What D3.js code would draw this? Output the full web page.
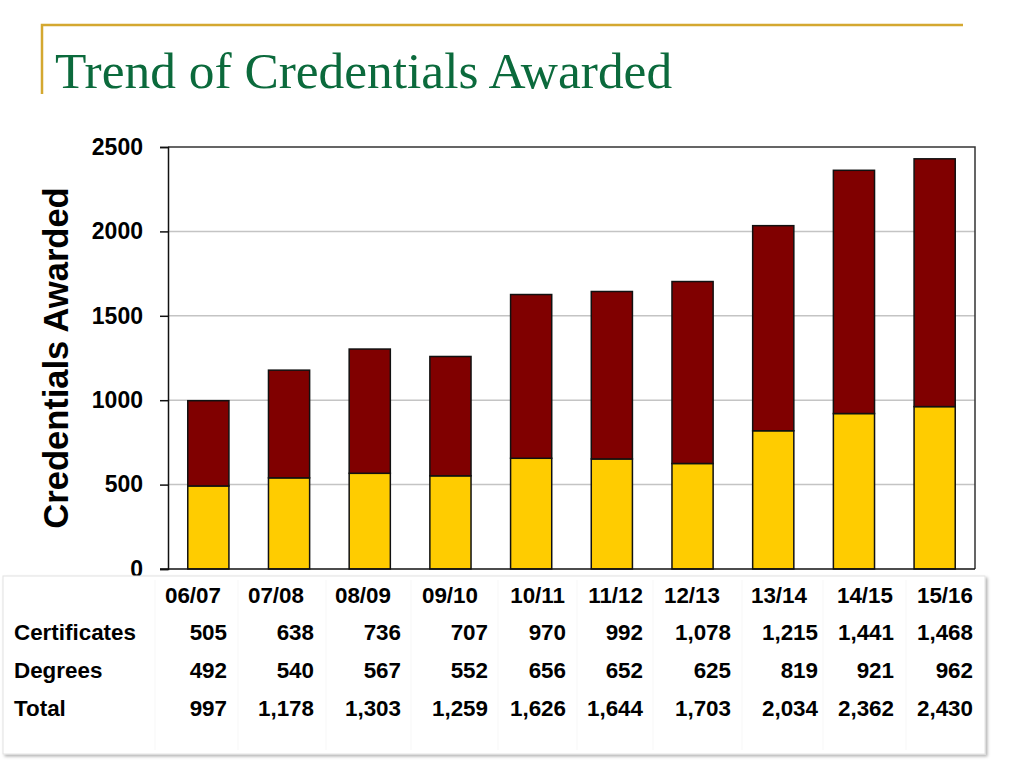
<!DOCTYPE html>
<html>
<head>
<meta charset="utf-8">
<script src="https://cdn.jsdelivr.net/npm/d3@7"></script>
<style>
  html, body { margin: 0; padding: 0; background: #fff; }
  svg { display: block; }
</style>
</head>
<body>
<svg id="chart" width="1024" height="768"></svg>
<script>
// ---- Data ----
const categories = ["06/07", "07/08", "08/09", "09/10", "10/11", "11/12", "12/13", "13/14", "14/15", "15/16"];
const certificates = [505, 638, 736, 707, 970, 992, 1078, 1215, 1441, 1468];
const degrees = [492, 540, 567, 552, 656, 652, 625, 819, 921, 962];
const totals = [997, 1178, 1303, 1259, 1626, 1644, 1703, 2034, 2362, 2430];
const yTicks = [0, 500, 1000, 1500, 2000, 2500];
const rowLabels = ["Certificates", "Degrees", "Total"];

// ---- Layout ----
const plot = { left: 168, right: 975, top: 147, bottom: 569 };
const headerRight = [221, 304, 391, 478, 565, 643, 720, 807, 893, 973];
const valueRight = [227, 314, 401, 488, 566, 643, 731, 818, 894, 973];
const dividerX = [155, 238, 326, 411, 498, 577, 653, 742, 823, 906];

const svg = d3.select("#chart");
const defs = svg.append("defs");
const f = defs.append("filter").attr("id", "shadow").attr("x", "-5%").attr("y", "-5%").attr("width", "110%").attr("height", "115%");
f.append("feDropShadow").attr("dx", 2).attr("dy", 2).attr("stdDeviation", 1.5).attr("flood-color", "#000").attr("flood-opacity", 0.3);

// Decorative gold frame lines
svg.append("path")
  .attr("d", "M42,94 L42,25 L963,25")
  .attr("fill", "none").attr("stroke", "#D4A830").attr("stroke-width", 2.5);

// Title
svg.append("text")
  .attr("x", 55).attr("y", 88)
  .attr("font-family", "'Liberation Serif', 'Times New Roman', serif")
  .attr("font-size", 51.4)
  .attr("fill", "#0B6A3C")
  .text("Trend of Credentials Awarded");

// Scales
const x = d3.scaleBand().domain(categories).range([plot.left, plot.right]).paddingInner(0.49).paddingOuter(0.245);
const y = d3.scaleLinear().domain([0, 2500]).range([plot.bottom, plot.top]);

// Gridlines
svg.append("g").selectAll("line").data(yTicks.filter(d => d > 0 && d < 2500)).join("line")
  .attr("x1", plot.left).attr("x2", plot.right)
  .attr("y1", d => y(d)).attr("y2", d => y(d))
  .attr("stroke", "#c4c4c4").attr("stroke-width", 1.5);

// Stacked bars
const table = categories.map((c, i) => ({ cat: c, degrees: degrees[i], certificates: certificates[i] }));
const stack = d3.stack().keys(["degrees", "certificates"])(table);
const colors = { degrees: "#FFCC00", certificates: "#800000" };
svg.append("g").selectAll("g").data(stack).join("g")
  .attr("fill", d => colors[d.key])
  .selectAll("rect").data(d => d).join("rect")
  .attr("x", d => x(d.data.cat))
  .attr("width", x.bandwidth())
  .attr("y", d => y(d[1]))
  .attr("height", d => y(d[0]) - y(d[1]))
  .attr("stroke", "#111").attr("stroke-width", 1.5);

// Plot frame (top & right)
svg.append("path")
  .attr("d", `M${plot.left},${plot.top} L${plot.right},${plot.top} L${plot.right},${plot.bottom}`)
  .attr("fill", "none").attr("stroke", "#333").attr("stroke-width", 1.5);

// Y axis
const yAxis = svg.append("g")
  .attr("transform", `translate(${plot.left},0)`)
  .call(d3.axisLeft(y).tickValues(yTicks).tickSize(8).tickPadding(17).tickFormat(d3.format("d")));
yAxis.select(".domain").attr("stroke", "#111").attr("stroke-width", 1.5);
yAxis.selectAll(".tick line").attr("stroke", "#111").attr("stroke-width", 1.5);
yAxis.selectAll(".tick text")
  .attr("font-family", "'Liberation Sans', Arial, sans-serif")
  .attr("font-weight", "bold").attr("font-size", 23).attr("fill", "#000");

// Bottom axis line
svg.append("line")
  .attr("x1", plot.left - 8).attr("x2", plot.right)
  .attr("y1", y(0)).attr("y2", y(0))
  .attr("stroke", "#111").attr("stroke-width", 1.5);

// Y axis title
svg.append("text")
  .attr("transform", `translate(68,${(plot.top + plot.bottom) / 2}) rotate(-90)`)
  .attr("text-anchor", "middle")
  .attr("font-family", "'Liberation Sans', Arial, sans-serif")
  .attr("font-weight", "bold").attr("font-size", 34.5).attr("fill", "#000")
  .text("Credentials Awarded");

// Data table box
svg.append("rect")
  .attr("x", 3).attr("y", 576).attr("width", 982).attr("height", 178)
  .attr("fill", "#fff").attr("stroke", "#e2e2e2").attr("stroke-width", 1)
  .attr("filter", "url(#shadow)");

svg.append("g").selectAll("line").data(dividerX).join("line")
  .attr("x1", d => d).attr("x2", d => d)
  .attr("y1", 580).attr("y2", 750)
  .attr("stroke", "#f7f7f7").attr("stroke-width", 1);

const tfont = "'Liberation Sans', Arial, sans-serif";
const tg = svg.append("g")
  .attr("font-family", tfont).attr("font-weight", "bold").attr("font-size", 22.4).attr("fill", "#000");

// header row
tg.selectAll("text.hdr").data(categories).join("text").attr("class", "hdr")
  .attr("x", (d, i) => headerRight[i]).attr("y", 603)
  .attr("text-anchor", "end").text(d => d);

const rows = [certificates, degrees, totals];
const rowY = [640, 678, 716];
const fmt = d3.format(",");
rows.forEach((vals, r) => {
  tg.append("text").attr("x", 14).attr("y", rowY[r]).text(rowLabels[r]);
  tg.selectAll(null).data(vals).join("text")
    .attr("x", (d, i) => valueRight[i]).attr("y", rowY[r])
    .attr("text-anchor", "end").text(d => fmt(d));
});
</script>
</body>
</html>
